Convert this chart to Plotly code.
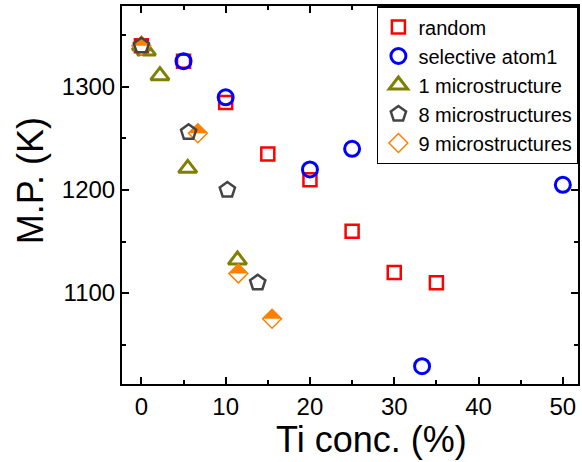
import plotly.graph_objects as go

# ---- data ----
random_x = [0, 5, 10, 15, 20, 25, 30, 35]
random_y = [1340, 1325, 1285, 1235, 1210, 1160, 1120, 1110]

sel_x = [5, 10, 20, 25, 33.3, 50]
sel_y = [1325, 1290, 1220, 1240, 1029, 1205]

one_x = [0, 0.6, 2.2, 5.5, 11.4]
one_y = [1340, 1335, 1311, 1221, 1132]

eight_x = [0, 5.6, 10.2, 13.8]
eight_y = [1340, 1256, 1200, 1110]

nine_x = [0, 6.7, 11.5, 15.5]
nine_y = [1340, 1255, 1119, 1075]

x_title = "Ti conc. (%)"
y_title = "M.P. (K)"

FONT = "Liberation Sans, Arial, sans-serif"
ORANGE = "#FF8000"
DIA = 14.5  # diamond marker size

fig = go.Figure()
fig.add_trace(go.Scatter(x=random_x, y=random_y, mode="markers", name="random",
                         legendrank=1,
                         marker=dict(symbol="square-open", size=13, color="#FF0000",
                                     line=dict(width=2.5, color="#FF0000"))))
fig.add_trace(go.Scatter(x=sel_x, y=sel_y, mode="markers", name="selective atom1",
                         legendrank=2,
                         marker=dict(symbol="circle-open", size=15, color="#0000FF",
                                     line=dict(width=3, color="#0000FF"))))
fig.add_trace(go.Scatter(x=one_x, y=one_y, mode="markers", name="1 microstructure",
                         legendrank=3,
                         marker=dict(symbol="triangle-up-open", size=16, color="#808000",
                                     line=dict(width=3, color="#808000"))))
# 9 microstructures: half-filled diamond = filled diamond, white cover on lower half, outline
fig.add_trace(go.Scatter(x=nine_x, y=nine_y, mode="markers", showlegend=False,
                         hoverinfo="skip",
                         marker=dict(symbol="diamond", size=DIA, color=ORANGE,
                                     line=dict(width=0))))
fig.add_trace(go.Scatter(x=nine_x, y=nine_y, mode="markers", showlegend=False,
                         hoverinfo="skip",
                         marker=dict(symbol="hourglass", angle=0,
                                     size=DIA * 1.3, standoff=DIA * 0.65,
                                     color="white", line=dict(width=0))))
fig.add_trace(go.Scatter(x=nine_x, y=nine_y, mode="markers", name="9 microstructures",
                         legendrank=5,
                         marker=dict(symbol="diamond-open", size=DIA, color=ORANGE,
                                     line=dict(width=1.5, color=ORANGE))))
fig.add_trace(go.Scatter(x=eight_x, y=eight_y, mode="markers", name="8 microstructures",
                         legendrank=4,
                         marker=dict(symbol="pentagon-open", size=16, color="#444444",
                                     line=dict(width=2.5, color="#444444"))))

axis_common = dict(showline=True, linewidth=2, linecolor="black", mirror="ticks",
                   ticks="inside", ticklen=7, tickwidth=2, tickcolor="black",
                   showgrid=False, zeroline=False,
                   tickfont=dict(family=FONT, size=24, color="black"))

fig.update_xaxes(range=[-2.3, 51.8], dtick=10, tick0=0,
                 minor=dict(ticks="inside", dtick=5, ticklen=4, tickwidth=1.5,
                            tickcolor="black", showgrid=False),
                 **axis_common)
fig.update_yaxes(range=[1011.7, 1378.6], dtick=100, tick0=1000,
                 minor=dict(ticks="inside", dtick=50, ticklen=4, tickwidth=1.5,
                            tickcolor="black", showgrid=False),
                 **axis_common)

fig.add_annotation(text=x_title, xref="paper", yref="paper", x=0.548, y=-0.206,
                   xanchor="center", yanchor="bottom", showarrow=False,
                   font=dict(family=FONT, size=36, color="black"))
fig.add_annotation(text=y_title, xref="paper", yref="paper", x=-0.201, y=0.537,
                   xanchor="center", yanchor="middle", showarrow=False, textangle=-90,
                   font=dict(family=FONT, size=36, color="black"))

fig.update_layout(
    width=582, height=462,
    margin=dict(l=122, r=2, t=6, b=78),
    plot_bgcolor="white", paper_bgcolor="white",
    legend=dict(x=0.559, y=1, xanchor="left", yanchor="top",
                bgcolor="white", bordercolor="black", borderwidth=1.5,
                font=dict(family=FONT, size=20, color="black"),
                tracegroupgap=0, itemwidth=30),
)

fig.write_html("out.html")
